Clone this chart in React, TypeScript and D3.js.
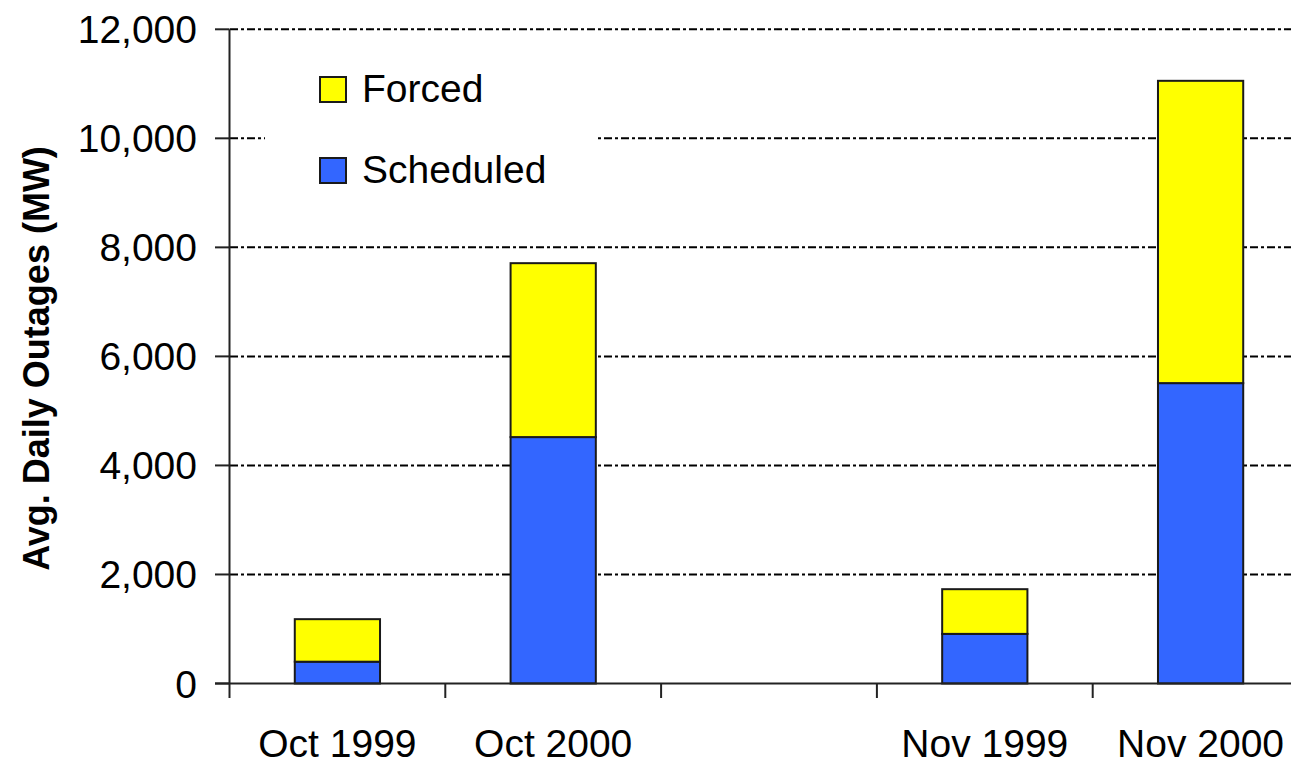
import React from "react";
import * as d3 from "d3";

const categories = ["Oct 1999", "Oct 2000", "", "Nov 1999", "Nov 2000"];
const scheduled = [400, 4520, 0, 910, 5510];
const forced = [780, 3190, 0, 820, 5545];
const yTicks = [0, 2000, 4000, 6000, 8000, 10000, 12000];
const seriesNames = ["Forced", "Scheduled"];
const seriesColors = ["#FFFF00", "#3366FF"];

const W = 1291;
const H = 765;
const FONT = "'Liberation Sans', Arial, Helvetica, sans-serif";

export default function App() {
  const keys = categories.map((c, i) => i + "|" + c);
  const x = d3.scaleBand<string>().domain(keys).range([229.5, 1308.5]).padding(0);
  const y = d3.scaleLinear().domain([0, 12000]).range([683.5, 29.3]);
  const barW = x.bandwidth() * 0.395;
  const fmt = d3.format(",");

  const rows = categories.map((c, i) => ({ key: keys[i], label: c, Scheduled: scheduled[i], Forced: forced[i] }));
  const stack = d3.stack<any>().keys(["Scheduled", "Forced"]);
  const stacked = stack(rows);
  const colorOf: Record<string, string> = { Scheduled: seriesColors[1], Forced: seriesColors[0] };

  const axisColor = "#222";

  return (
    <svg width={W} height={H} style={{ position: "absolute", left: 0, top: 0, background: "#fff" }} fontFamily={FONT}>
      <rect x={0} y={0} width={W} height={H} fill="#fff" />
      {/* gridlines */}
      {yTicks.filter((t) => t > 0).map((t) => (
        <line key={"g" + t} x1={230} x2={W} y1={y(t)} y2={y(t)} stroke="#000" strokeWidth={2} strokeDasharray="8,3,3,3" />
      ))}
      {/* legend background */}
      <rect x={265} y={48} width={332} height={150} fill="#fff" />
      {/* bars */}
      {stacked.map((s) =>
        s.map((d, i) => {
          if (d[1] - d[0] <= 0) return null;
          const cx = (x(keys[i]) as number) + x.bandwidth() / 2;
          return (
            <rect
              key={s.key + i}
              x={cx - barW / 2}
              y={y(d[1])}
              width={barW}
              height={y(d[0]) - y(d[1])}
              fill={colorOf[s.key]}
              stroke="#1a1a1a"
              strokeWidth={2}
            />
          );
        })
      )}
      {/* y axis */}
      <line x1={229.5} x2={229.5} y1={y(12000)} y2={y(0)} stroke={axisColor} strokeWidth={2} />
      {yTicks.map((t) => (
        <g key={"t" + t}>
          <line x1={215} x2={229.5} y1={y(t)} y2={y(t)} stroke={axisColor} strokeWidth={2} />
          <text x={197} y={y(t) + 14} textAnchor="end" fontSize={39} fill="#000">
            {fmt(t)}
          </text>
        </g>
      ))}
      {/* x axis */}
      <line x1={215} x2={W} y1={y(0)} y2={y(0)} stroke={axisColor} strokeWidth={2} />
      {keys.map((k) => (
        <line key={"xt" + k} x1={(x(k) as number)} x2={(x(k) as number)} y1={y(0)} y2={698} stroke={axisColor} strokeWidth={2} />
      ))}
      {rows.map((r) => (
        <text key={"xl" + r.key} x={(x(r.key) as number) + x.bandwidth() / 2} y={757} textAnchor="middle" fontSize={39} fill="#000">
          {r.label}
        </text>
      ))}
      {/* y title */}
      <text transform="translate(49,358.5) rotate(-90)" textAnchor="middle" fontSize={36} fontWeight="bold" fill="#000">
        Avg. Daily Outages (MW)
      </text>
      {/* legend */}
      {seriesNames.map((n, i) => (
        <g key={"lg" + n}>
          <rect x={320} y={77 + i * 81} width={26} height={25} fill={seriesColors[i]} stroke="#1a1a1a" strokeWidth={2} />
          <text x={362} y={102 + i * 81} fontSize={39} fill="#000">
            {n}
          </text>
        </g>
      ))}
    </svg>
  );
}
